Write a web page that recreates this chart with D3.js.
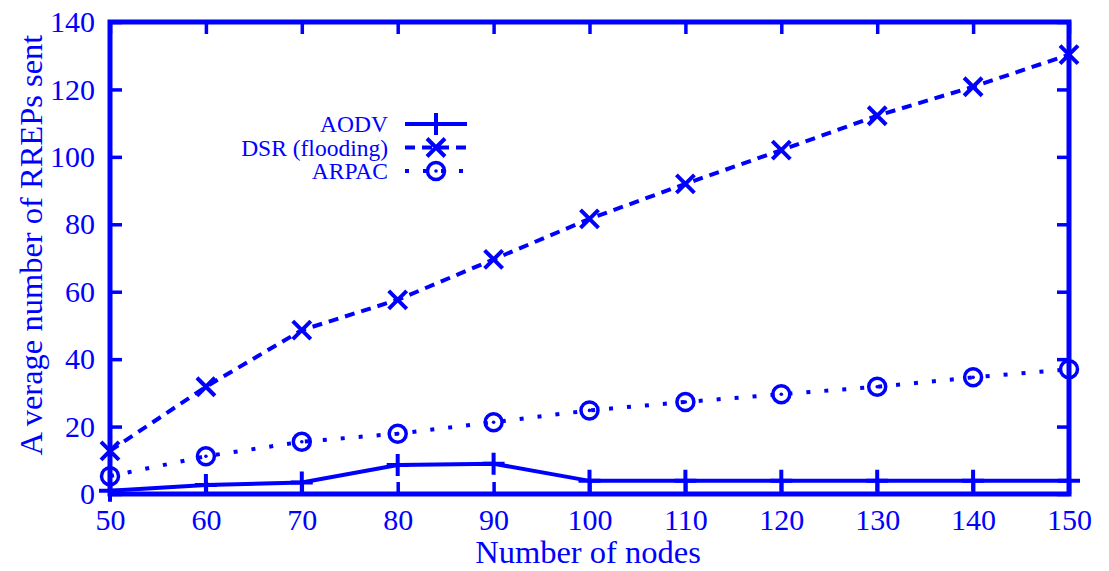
<!DOCTYPE html>
<html>
<head>
<meta charset="utf-8">
<script src="https://cdn.jsdelivr.net/npm/d3@7"></script>
<style>
  body { margin: 0; background: #fff; }
  text { font-family: "Liberation Serif", "DejaVu Serif", serif; fill: #0000ff; }
</style>
</head>
<body>
<svg id="chart"></svg>
<script>
// Data
const nodes = [50, 60, 70, 80, 90, 100, 110, 120, 130, 140, 150];
const aodv = [1.0, 2.7, 3.4, 8.6, 9.0, 3.9, 3.9, 3.9, 3.9, 3.9, 3.9];
const dsr = [12.8, 31.8, 48.6, 57.6, 69.6, 81.6, 92.0, 102.0, 112.2, 120.8, 130.3];
const arpac = [5.3, 11.2, 15.5, 17.9, 21.3, 24.8, 27.3, 29.6, 31.8, 34.6, 37.0];
const xTicks = [50, 60, 70, 80, 90, 100, 110, 120, 130, 140, 150];
const yTicks = [0, 20, 40, 60, 80, 100, 120, 140];

const series = [
  { name: "AODV", values: aodv, dash: null, marker: "plus" },
  { name: "DSR (flooding)", values: dsr, dash: "10,7", marker: "cross" },
  { name: "ARPAC", values: arpac, dash: "4,14", marker: "circle" }
];

const W = 1109, H = 571;
const margin = { top: 22, right: 40, bottom: 77, left: 110 };
const width = W - margin.left - margin.right;
const height = H - margin.top - margin.bottom;
const blue = "#0000ff";

const svg = d3.select("#chart").attr("width", W).attr("height", H);
const g = svg.append("g").attr("transform", `translate(${margin.left},${margin.top})`);

const x = d3.scaleLinear().domain([50, 150]).range([0, width]);
const y = d3.scaleLinear().domain([0, 140]).range([height, 0]);

// markers
function markerPath(type) {
  if (type === "plus") return "M-11,0H11M0,-11V11";
  if (type === "cross") return "M-9,-9L9,9M-9,9L9,-9";
  return null;
}
function drawMarker(sel, type, cx, cy) {
  if (type === "circle") {
    sel.append("circle").attr("cx", cx).attr("cy", cy).attr("r", 8.5)
      .attr("fill", "none").attr("stroke", blue).attr("stroke-width", 3.5);
    sel.append("circle").attr("cx", cx).attr("cy", cy).attr("r", 1.8).attr("fill", blue);
  } else {
    sel.append("path").attr("d", markerPath(type))
      .attr("transform", `translate(${cx},${cy})`)
      .attr("fill", "none").attr("stroke", blue).attr("stroke-width", 4);
  }
}

// axes with inward ticks on all four sides
function styleAxis(a) {
  a.select(".domain").remove();
  a.selectAll(".tick line").attr("stroke", blue).attr("stroke-width", 3.5);
  a.selectAll(".tick text").style("font-size", "30px").attr("fill", blue);
}
g.append("g").attr("transform", `translate(0,${height})`)
  .call(d3.axisBottom(x).tickValues(xTicks).tickSize(-12).tickPadding(15))
  .call(styleAxis);
g.append("g")
  .call(d3.axisTop(x).tickValues(xTicks).tickSize(-12).tickFormat(""))
  .call(styleAxis);
g.append("g")
  .call(d3.axisLeft(y).tickValues(yTicks).tickSize(-12).tickPadding(15))
  .call(styleAxis);
g.append("g").attr("transform", `translate(${width},0)`)
  .call(d3.axisRight(y).tickValues(yTicks).tickSize(-12).tickFormat(""))
  .call(styleAxis);

// frame
g.append("rect").attr("width", width).attr("height", height)
  .attr("fill", "none").attr("stroke", blue).attr("stroke-width", 5);

// lines and markers
const line = d3.line().x((d, i) => x(nodes[i])).y(d => y(d));
series.forEach(s => {
  g.append("path").datum(s.values).attr("d", line)
    .attr("fill", "none").attr("stroke", blue).attr("stroke-width", 4)
    .attr("stroke-dasharray", s.dash);
  const mg = g.append("g");
  s.values.forEach((v, i) => drawMarker(mg, s.marker, x(nodes[i]), y(v)));
});

// legend
const leg = svg.append("g");
series.forEach((s, i) => {
  const ly = 124 + i * 23.5;
  leg.append("text").attr("x", 388).attr("y", ly).attr("dy", "0.35em")
    .attr("text-anchor", "end").style("font-size", "23.5px").text(s.name);
  leg.append("line").attr("x1", 405).attr("x2", 467).attr("y1", ly).attr("y2", ly)
    .attr("stroke", blue).attr("stroke-width", 4).attr("stroke-dasharray", s.dash);
  drawMarker(leg, s.marker, 436, ly);
});

// axis labels
svg.append("text").attr("x", 588).attr("y", 563)
  .attr("text-anchor", "middle").style("font-size", "32.5px").text("Number of nodes");
const yLab = svg.append("text")
  .attr("transform", `translate(42,245) rotate(-90)`)
  .attr("text-anchor", "middle").style("font-size", "32.5px");
yLab.append("tspan").text("A");
yLab.append("tspan").attr("dx", 8).text("verage number of RREPs sent");
</script>
</body>
</html>
